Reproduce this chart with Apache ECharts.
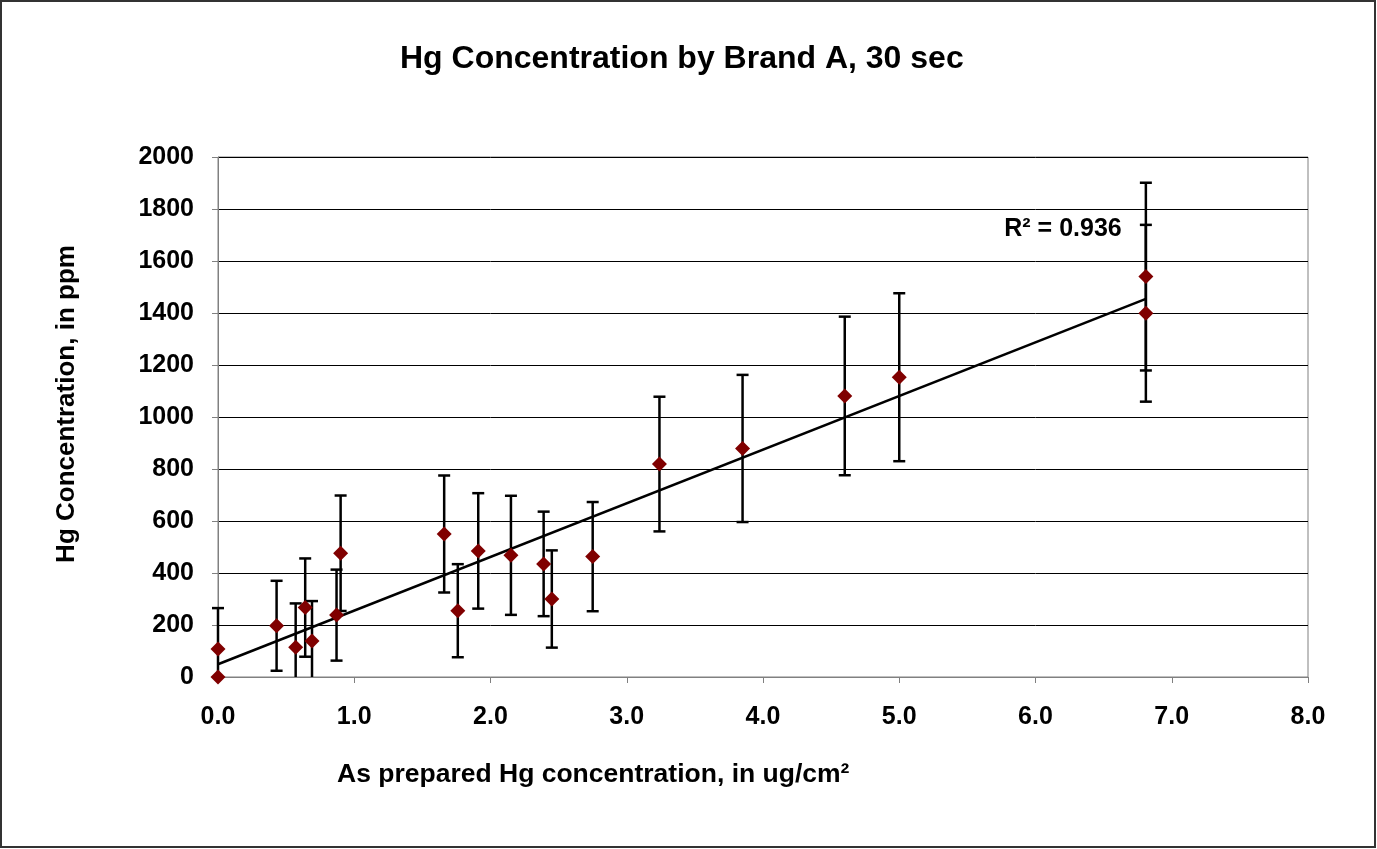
<!DOCTYPE html>
<html>
<head>
<meta charset="utf-8">
<title>Hg Concentration by Brand A</title>
<script src="https://cdn.jsdelivr.net/npm/echarts@6/dist/echarts.min.js"></script>
<style>
  html, body { margin: 0; padding: 0; background: #fff; }
  #chart { width: 1377px; height: 849px; }
</style>
</head>
<body>
<div id="chart"></div>
<script>
// prepared concentration (ug/cm2)
var xVals = [0.0, 0.0, 0.43, 0.57, 0.64, 0.69, 0.87, 0.90, 1.66, 1.76, 1.91, 2.15, 2.39, 2.45, 2.75, 3.24, 3.85, 4.60, 5.00, 6.81, 6.81];
// measured concentration (ppm)
var yVals = [108, 0, 197, 114, 267, 138, 238, 476, 550, 255, 485, 468, 435, 300, 463, 819, 879, 1081, 1153, 1540, 1399];
// +/- error (ppm)
var errVals = [157, 0, 173, 169, 189, 154, 175, 222, 225, 179, 222, 229, 201, 187, 210, 259, 283, 305, 323, 361, 340];
// linear trend end points
var trendX = [0, 6.81];
var trendY = [49, 1454];
var rSquared = "R² = 0.936";

var font = "'Liberation Sans', Arial, sans-serif";

var points = [];
var errBars = [];
for (var i = 0; i < xVals.length; i++) {
  points.push([xVals[i], yVals[i]]);
  if (errVals[i] > 0) {
    errBars.push([xVals[i], yVals[i] - errVals[i], yVals[i] + errVals[i]]);
  }
}
var trendData = [];
for (var j = 0; j < trendX.length; j++) {
  trendData.push([trendX[j], trendY[j]]);
}

function renderErrBar(params, api) {
  var low = api.value(1);
  var cut = low < 0;
  var lo = api.coord([api.value(0), cut ? 0 : low]);
  var hi = api.coord([api.value(0), api.value(2)]);
  var half = 6;
  var style = { stroke: "#000", lineWidth: 2.5 };
  var kids = [
    { type: "line", shape: { x1: hi[0], y1: hi[1], x2: lo[0], y2: lo[1] }, style: style },
    { type: "line", shape: { x1: hi[0] - half, y1: hi[1], x2: hi[0] + half, y2: hi[1] }, style: style }
  ];
  // below zero the bar just runs into the axis, no cap
  if (!cut) {
    kids.push({ type: "line", shape: { x1: lo[0] - half, y1: lo[1], x2: lo[0] + half, y2: lo[1] }, style: style });
  }
  return { type: "group", children: kids };
}

var myChart = echarts.init(document.getElementById("chart"));
var option = {
  backgroundColor: "#fff",
  animation: false,
  title: {
    text: "Hg Concentration by Brand A, 30 sec",
    left: 395,
    top: 38,
    textStyle: { fontFamily: font, fontWeight: "bold", fontSize: 32, color: "#000" }
  },
  grid: { left: 218, top: 157, right: 69, bottom: 172, show: true, borderColor: "#808080", borderWidth: 1 },
  xAxis: {
    type: "value",
    min: 0,
    max: 8,
    interval: 1,
    axisLine: { show: true, onZero: false, lineStyle: { color: "#808080", width: 1 } },
    axisTick: { show: true, inside: false, length: 6, lineStyle: { color: "#808080" } },
    splitLine: { show: false },
    axisLabel: {
      margin: 28,
      fontFamily: font,
      fontWeight: "bold",
      fontSize: 25,
      color: "#000",
      formatter: function (v) { return v.toFixed(1); }
    }
  },
  yAxis: {
    type: "value",
    min: 0,
    max: 2000,
    interval: 200,
    axisLine: { show: true, lineStyle: { color: "#808080", width: 1 } },
    axisTick: { show: true, inside: false, length: 6, lineStyle: { color: "#808080" } },
    splitLine: { show: true, lineStyle: { color: "#000", width: 1 } },
    axisLabel: {
      margin: 24,
      fontFamily: font,
      fontWeight: "bold",
      fontSize: 25,
      color: "#000",
      formatter: function (v) { return String(v); }
    }
  },
  graphic: [
    {
      type: "rect",
      shape: { x: 1, y: 1, width: 1374, height: 846 },
      style: { fill: "none", stroke: "#333", lineWidth: 2 },
      silent: true
    },
    {
      type: "text",
      x: 337,
      y: 775,
      style: {
        text: "As prepared Hg concentration, in ug/cm²",
        fontFamily: font, fontWeight: "bold", fontSize: 26.5, fill: "#000",
        textAlign: "left", textVerticalAlign: "middle"
      }
    },
    {
      type: "text",
      x: 67,
      y: 404,
      rotation: Math.PI / 2,
      style: {
        text: "Hg Concentration, in ppm",
        fontFamily: font, fontWeight: "bold", fontSize: 26, fill: "#000",
        textAlign: "center", textVerticalAlign: "middle"
      }
    },
    {
      type: "text",
      x: 1063,
      y: 229,
      style: {
        text: rSquared,
        fontFamily: font, fontWeight: "bold", fontSize: 25, fill: "#000",
        textAlign: "center", textVerticalAlign: "middle"
      }
    }
  ],
  series: [
    {
      name: "trend",
      type: "line",
      data: trendData,
      symbol: "none",
      lineStyle: { color: "#000", width: 2.5 },
      z: 2
    },
    {
      name: "error",
      type: "custom",
      renderItem: renderErrBar,
      data: errBars,
      clip: false,
      encode: { x: 0, y: [1, 2] },
      z: 3
    },
    {
      name: "Hg",
      type: "scatter",
      data: points,
      symbol: "diamond",
      symbolSize: [15, 15],
      itemStyle: { color: "#800000", opacity: 1 },
      clip: false,
      z: 4
    }
  ]
};
myChart.setOption(option);
</script>
</body>
</html>
